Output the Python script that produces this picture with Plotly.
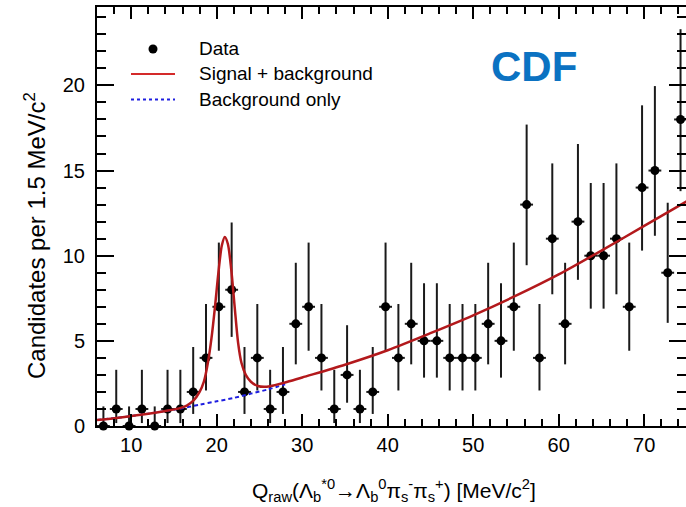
import plotly.graph_objects as go

# ---- data: candidates per 1.5 MeV/c^2 bin ----
bin_centers = [6.75, 8.25, 9.75, 11.25, 12.75, 14.25, 15.75, 17.25, 18.75, 20.25,
               21.75, 23.25, 24.75, 26.25, 27.75, 29.25, 30.75, 32.25, 33.75, 35.25,
               36.75, 38.25, 39.75, 41.25, 42.75, 44.25, 45.75, 47.25, 48.75, 50.25,
               51.75, 53.25, 54.75, 56.25, 57.75, 59.25, 60.75, 62.25, 63.75, 65.25,
               66.75, 68.25, 69.75, 71.25, 72.75, 74.25]
counts = [0, 1, 0, 1, 0, 1, 1, 2, 4, 7,
          8, 2, 4, 1, 2, 6, 7, 4, 1, 3,
          1, 2, 7, 4, 6, 5, 5, 4, 4, 4,
          6, 5, 7, 13, 4, 11, 6, 12, 10, 10,
          11, 7, 14, 15, 9, 18]
bin_half_width = 0.75

# 68.27% Poisson interval bounds for each observed count
poisson_lo = {0: 0.0, 1: 0.173, 2: 0.708, 3: 1.367, 4: 2.086, 5: 2.840, 6: 3.620,
              7: 4.419, 8: 5.232, 9: 6.057, 10: 6.891, 11: 7.734, 12: 8.585,
              13: 9.441, 14: 10.30, 15: 11.17, 18: 13.79}
poisson_hi = {0: 1.15, 1: 3.300, 2: 4.638, 3: 5.918, 4: 7.163, 5: 8.382, 6: 9.584,
              7: 10.77, 8: 11.95, 9: 13.11, 10: 14.27, 11: 15.42, 12: 16.56,
              13: 17.70, 14: 18.83, 15: 19.96, 18: 23.30}
err_up = [poisson_hi[n] - n for n in counts]
err_dn = [n - poisson_lo[n] for n in counts]

# ---- fitted curves ----
fit_x = [6.0, 9.0, 12.0, 14.0, 15.5, 16.5, 17.3, 18.0, 18.5, 19.0, 19.4, 19.8,
         20.2, 20.6, 20.95, 21.3, 21.7, 22.1, 22.5, 22.9, 23.4, 24.0, 24.8,
         25.7, 26.8, 28.0, 30.0, 35.0, 40.0, 45.0, 50.0, 55.0, 60.0, 65.0,
         70.0, 75.0]
fit_y = [0.35, 0.52, 0.72, 0.88, 1.02, 1.2, 1.5, 2.0, 2.6, 3.8, 5.2, 7.0,
         9.0, 10.6, 11.1, 10.7, 9.2, 7.0, 4.9, 3.7, 3.0, 2.6, 2.35,
         2.3, 2.4, 2.55, 2.85, 3.6, 4.45, 5.45, 6.5, 7.65, 8.9, 10.3,
         11.75, 13.2]

bkg_x = [6.0, 9.0, 12.0, 14.0, 15.5, 18.0, 20.0, 22.0, 24.0, 26.0, 28.0]
bkg_y = [0.35, 0.52, 0.72, 0.88, 1.0, 1.25, 1.45, 1.65, 1.9, 2.15, 2.45]

# ---- frame geometry (pixels) ----
W, H = 686, 507
L, R, T, B = 97, 0, 7, 81
PW, PH = W - L - R, H - T - B


def px(xp):
    return (xp - L) / PW


def py(yp):
    return (H - B - yp) / PH


FONT = "Liberation Sans, Arial, Helvetica, sans-serif"
RED = "#b3191c"
BLUE = "#1e1ee0"

fig = go.Figure()

fig.add_trace(go.Scatter(
    x=bin_centers, y=counts, mode="markers",
    marker=dict(color="black", size=9, symbol="circle"),
    error_x=dict(type="constant", value=bin_half_width, color="#1a1a1a",
                 thickness=2, width=0),
    error_y=dict(type="data", symmetric=False, array=err_up, arrayminus=err_dn,
                 color="#1a1a1a", thickness=2, width=0),
    cliponaxis=False, showlegend=False,
))

fig.add_trace(go.Scatter(
    x=bkg_x, y=bkg_y, mode="lines",
    line=dict(color=BLUE, width=2, dash="4px,3px", shape="spline", smoothing=0.8),
    showlegend=False,
))

fig.add_trace(go.Scatter(
    x=fit_x, y=fit_y, mode="lines",
    line=dict(color=RED, width=2.5, shape="spline", smoothing=0.8),
    showlegend=False,
))

# right-hand ticks without the frame line
fig.add_trace(go.Scatter(x=[None], y=[None], yaxis="y2", showlegend=False))

axis_font = dict(family=FONT, size=20, color="black")

fig.update_layout(
    width=W, height=H,
    margin=dict(l=L, r=R, t=T, b=B, pad=0),
    paper_bgcolor="white", plot_bgcolor="white",
    xaxis=dict(
        range=[6, 6 + PW / 8.55], showgrid=False, zeroline=False,
        showline=True, linecolor="black", linewidth=2, mirror="ticks",
        ticks="inside", ticklen=12, tickwidth=1.5, tickcolor="black",
        tick0=0, dtick=10, tickfont=axis_font,
        minor=dict(ticks="inside", ticklen=7, dtick=2, tick0=0,
                   tickcolor="black", tickwidth=1.5),
    ),
    yaxis=dict(
        range=[0, PH / 17.03], showgrid=False, zeroline=False,
        showline=True, linecolor="black", linewidth=2,
        ticks="inside", ticklen=17, tickwidth=1.5, tickcolor="black",
        tick0=0, dtick=5, tickfont=axis_font, ticklabelstandoff=6,
        minor=dict(ticks="inside", ticklen=9, dtick=1, tick0=0,
                   tickcolor="black", tickwidth=1.5),
    ),
    yaxis2=dict(
        overlaying="y", side="right", matches="y", anchor="x",
        showgrid=False, zeroline=False, showline=False, showticklabels=False,
        ticks="inside", ticklen=17, tickwidth=1.5, tickcolor="black",
        tick0=0, dtick=5,
        minor=dict(ticks="inside", ticklen=9, dtick=1, tick0=0,
                   tickcolor="black", tickwidth=1.5),
    ),
    showlegend=False,
)

# legend keys
legend_font = dict(family=FONT, size=19, color="black")
fig.add_shape(type="circle", xref="paper", yref="paper",
              x0=px(148.5), x1=px(157.5), y0=py(44.5), y1=py(53.5),
              fillcolor="black", line=dict(color="black", width=0))
fig.add_shape(type="line", xref="paper", yref="paper",
              x0=px(131), x1=px(175), y0=py(74), y1=py(74),
              line=dict(color="#d42a2a", width=2))
fig.add_shape(type="line", xref="paper", yref="paper",
              x0=px(131), x1=px(175), y0=py(99.5), y1=py(99.5),
              line=dict(color=BLUE, width=2, dash="3px,3px"))
for label, ycen in [("Data", 49), ("Signal + background", 73.5), ("Background only", 99)]:
    fig.add_annotation(text=label, xref="paper", yref="paper",
                       x=px(197), y=py(ycen), xanchor="left", yanchor="middle",
                       showarrow=False, font=legend_font)

# experiment tag
fig.add_annotation(text="<b>CDF</b>", xref="paper", yref="paper",
                   x=px(534), y=py(66), xanchor="center", yanchor="middle",
                   showarrow=False,
                   font=dict(family=FONT, size=42, color="#0b72c2"))

# axis titles
fig.add_annotation(
    text="Candidates per 1.5 MeV/c<sup>2</sup>", xref="paper", yref="paper",
    x=px(35), y=py(236), xanchor="center", yanchor="middle", textangle=-90,
    showarrow=False, font=dict(family=FONT, size=24, color="black"))
fig.add_annotation(
    text="Q<sub>raw</sub>(\u039b<sub>b</sub><sup>*0</sup>\u2192\u039b<sub>b</sub><sup>0</sup>"
         "\u03c0<sub>s</sub><sup>-</sup>\u03c0<sub>s</sub><sup>+</sup>) [MeV/c<sup>2</sup>]",
    xref="paper", yref="paper", x=px(394), y=py(490),
    xanchor="center", yanchor="middle", showarrow=False,
    font=dict(family=FONT, size=21, color="black"))

fig.write_html("out.html")
